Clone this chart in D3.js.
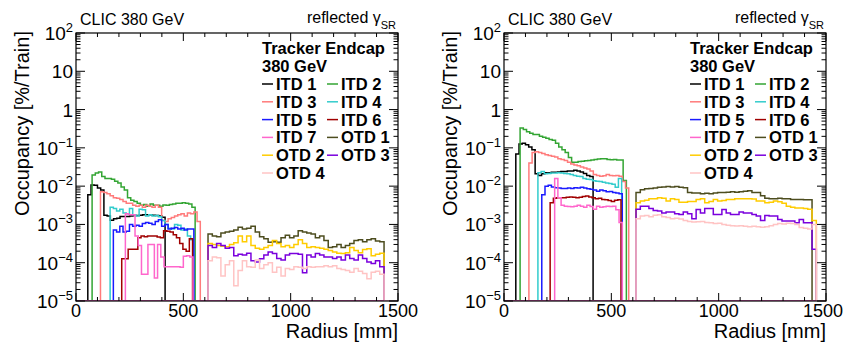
<!DOCTYPE html>
<html>
<head>
<meta charset="utf-8">
<script src="https://cdn.jsdelivr.net/npm/d3@7"></script>
<style>
  body { margin: 0; background: #fff; }
  text { font-family: "Liberation Sans", Arial, Helvetica, sans-serif; }
</style>
</head>
<body>
<svg id="chart" width="844" height="344"></svg>
<script>
// ---- series definitions ----
const seriesNames  = ["ITD 1", "ITD 2", "ITD 3", "ITD 4", "ITD 5", "ITD 6", "ITD 7",
                      "OTD 1", "OTD 2", "OTD 3", "OTD 4"];
const seriesColors = ["#000000", "#33a533", "#ff7b7b", "#33cccc", "#1a1aff", "#a00000", "#ff66cc",
                      "#4d4d1f", "#ffcc00", "#7a00dd", "#ffc4c4"];
// bin width [mm] per series
const binWidth     = [15, 15, 15, 15, 15, 15, 15, 20, 20, 20, 20];
// lower edge of first filled bin [mm]
const binStartLeft  = [55, 75, 114, 159, 174, 213, 230, 615, 615, 615, 615];
const binStartRight = [55, 75, 116, 158, 176, 215, 236, 615, 615, 615, 615];

// axis ticks
const xMajorTicks = [0, 500, 1000, 1500];
const yDecades    = [-5, -4, -3, -2, -1, 0, 1, 2];

// ---- occupancy [%/Train], left panel ----
const leftITD1 = [6.0e-3, 1.07e-2, 1.05e-2, 8.9e-3, 7.9e-3, 1.74e-3, 1.66e-3, 1.29e-3, 1.41e-3, 1.45e-3,
  1.6e-3, 1.62e-3, 1.6e-3, 1.66e-3, 1.7e-3, 1.7e-3, 1.74e-3, 1.78e-3, 1.8e-3, 1.78e-3, 1.74e-3, 1.7e-3, 1.66e-3, 1.55e-3];
const leftITD2 = [1.95e-2, 2.19e-2, 2.34e-2, 1.78e-2, 1.58e-2, 1.58e-2, 1.51e-2, 1.35e-2, 1.2e-2, 9.5e-3,
  7.9e-3, 5.0e-3, 4.3e-3, 4.0e-3, 3.55e-3, 3.16e-3, 3.3e-3, 3.0e-3, 3.4e-3, 3.16e-3, 3.16e-3, 3.0e-3,
  3.2e-3, 3.16e-3, 3.3e-3, 3.4e-3, 3.55e-3, 3.6e-3, 3.7e-3, 3.6e-3, 3.4e-3, 2.8e-3];
const leftITD3 = [7.1e-3, 6.8e-3, 6.3e-3, 5.6e-3, 5.0e-3, 4.8e-3, 4.5e-3, 4.0e-3, 3.55e-3, 3.55e-3,
  3.16e-3, 3.0e-3, 3.16e-3, 2.8e-3, 3.16e-3, 3.0e-3, 2.8e-3, 3.16e-3, 2.8e-3, 1.26e-3, 1.2e-3, 1.41e-3,
  1.51e-3, 1.66e-3, 1.78e-3, 1.9e-3, 1.66e-3, 2.0e-3, 1.9e-3, 2.1e-3, 1.2e-3];
const leftITD4 = [2.8e-3, 2.6e-3, 2.24e-3, 2.5e-3, 2.0e-3, 1.9e-3, 2.6e-3, 1.78e-3, 1.66e-3, 2.5e-3,
  2.4e-3, 1.66e-3, 1.78e-3, 1.66e-3, 1.7e-3, 1.58e-3, 1.26e-3, 1.0e-3, 7.9e-4, 7.6e-4, 1.0e-3, 9.5e-4,
  7.1e-4, 7.6e-4, 5.0e-4, 4.0e-4];
const leftITD5 = [7.1e-4, 6.3e-4, 8.9e-4, 6.3e-4, 6.6e-4, 1.0e-3, 8.9e-4, 9.5e-4, 8.9e-4, 1.05e-3,
  1.12e-3, 1.07e-3, 1.0e-3, 1.2e-3, 1.32e-3, 8.9e-4, 1.0e-3, 7.6e-4, 7.9e-4, 8.3e-4, 7.6e-4, 7.9e-4,
  7.1e-4, 7.6e-4, 7.6e-4];
const leftITD6 = [1.26e-4, 1.26e-4, 2.24e-4, 2.24e-4, 2.24e-4, 4.5e-4, 5.0e-4, 4.8e-4, 5.0e-4, 5.0e-4,
  5.0e-4, 4.7e-4, 4.5e-4, 6.8e-4, 6.6e-4, 6.3e-4, 5.4e-4, 4.5e-4, 3.16e-4, 2.24e-4, 2.0e-4, 4.2e-4];
const leftITD7 = [1.9e-3, 1.78e-3, 1.78e-3, 5.0e-4, 2.8e-4, 5.0e-5, 5.0e-5, 3.0e-4, 3.0e-4, 4.0e-5,
  3.0e-4, 1.41e-4, 7.9e-5, 7.9e-5, 7.9e-5, 7.9e-5, 7.9e-5, 7.6e-5, 1.48e-4, 1.51e-4, 1.41e-4];
const leftOTD1 = [5.6e-4, 5.0e-4, 4.8e-4, 6.0e-4, 6.3e-4, 6.6e-4, 7.1e-4, 8.5e-4, 7.6e-4, 7.9e-4,
  8.9e-4, 6.3e-4, 4.8e-4, 4.2e-4, 3.4e-4, 3.55e-4, 3.4e-4, 4.5e-4, 5.2e-4, 4.5e-4, 5.0e-4, 6.8e-4,
  6.3e-4, 6.0e-4, 5.6e-4, 4.5e-4, 5.0e-4, 3.8e-4, 2.5e-4, 2.6e-4, 3.0e-4, 2.5e-4, 2.8e-4, 3.16e-4,
  3.8e-4, 4.0e-4, 3.55e-4, 4.0e-4, 4.2e-4, 3.7e-4, 3.55e-4];
const leftOTD2 = [3.16e-4, 3.0e-4, 2.8e-4, 2.7e-4, 2.6e-4, 3.0e-4, 3.3e-4, 5.0e-4, 3.55e-4, 5.0e-4,
  2.8e-4, 2.4e-4, 2.24e-4, 2.5e-4, 2.8e-4, 3.8e-4, 3.16e-4, 2.6e-4, 2.8e-4, 2.5e-4, 3.0e-4, 4.0e-4,
  3.16e-4, 2.5e-4, 2.6e-4, 2.5e-4, 2.4e-4, 2.24e-4, 2.1e-4, 1.9e-4, 1.78e-4, 1.74e-4, 1.82e-4, 2.5e-4,
  2.1e-4, 1.82e-4, 2.2e-4, 2.3e-4, 1.51e-4, 1.66e-4, 1.78e-4];
const leftOTD3 = [2.8e-4, 2.5e-4, 3.16e-4, 2.8e-4, 2.4e-4, 2.5e-4, 1.51e-4, 1.66e-4, 1.58e-4, 1.78e-4,
  1.12e-4, 1.05e-4, 1.26e-4, 1.58e-4, 1.9e-4, 1.74e-4, 1.29e-4, 1.17e-4, 1.58e-4, 1.74e-4, 1.74e-4,
  1.66e-4, 5.5e-5, 1.58e-4, 1.41e-4, 1.74e-4, 1.58e-4, 1.41e-4, 1.41e-4, 1.29e-4, 1.41e-4, 1.17e-4,
  1.58e-4, 1.29e-4, 1.17e-4, 1.58e-4, 1.29e-4, 1.05e-4, 9.5e-5, 1.12e-4, 7.9e-5];
const leftOTD4 = [1.12e-4, 1.41e-4, 1.35e-4, 4.5e-5, 8.9e-5, 1.12e-4, 2.5e-5, 6.3e-5, 1.12e-4, 7.9e-5,
  7.6e-5, 1.17e-4, 7.1e-5, 8.9e-5, 1.0e-4, 5.6e-5, 7.6e-5, 4.5e-5, 7.1e-5, 6.6e-5, 7.9e-5, 7.6e-5,
  7.1e-5, 7.9e-5, 7.6e-5, 7.9e-5, 7.9e-5, 8.3e-5, 7.9e-5, 8.3e-5, 7.1e-5, 6.6e-5, 6.3e-5, 5.6e-5,
  7.1e-5, 6.0e-5, 5.2e-5, 3.8e-5, 5.6e-5, 6.0e-5, 5.0e-5];

// ---- occupancy [%/Train], right panel ----
const rightITD1 = [6.9e-2, 0.126, 0.132, 0.12, 0.105, 8.9e-2, 2.1e-2, 1.9e-2, 2.1e-2, 2.24e-2,
  2.24e-2, 2.3e-2, 2.3e-2, 2.34e-2, 2.4e-2, 2.4e-2, 2.5e-2, 2.5e-2, 2.6e-2, 2.5e-2, 2.34e-2, 2.14e-2,
  1.9e-2, 1.78e-2];
const rightITD2 = [0.331, 0.302, 0.263, 0.24, 0.224, 0.224, 0.2, 0.19, 0.178, 0.166, 0.158, 0.132,
  0.105, 8.9e-2, 7.6e-2, 5.6e-2, 4.2e-2, 4.2e-2, 4.4e-2, 4.5e-2, 4.6e-2, 4.7e-2, 4.8e-2, 5.0e-2,
  5.1e-2, 5.2e-2, 5.2e-2, 5.0e-2, 4.9e-2, 5.0e-2, 4.8e-2, 4.8e-2, 1.41e-2];
const rightITD3 = [4.0e-2, 7.6e-2, 7.9e-2, 7.6e-2, 7.1e-2, 6.6e-2, 6.3e-2, 6.0e-2, 5.8e-2, 5.2e-2,
  5.0e-2, 4.7e-2, 4.2e-2, 3.8e-2, 3.55e-2, 3.4e-2, 3.16e-2, 3.0e-2, 2.8e-2, 2.5e-2, 2.0e-2, 1.9e-2,
  1.82e-2, 1.86e-2, 2.0e-2, 1.9e-2, 1.86e-2, 1.9e-2, 1.82e-2, 1.32e-2, 8.9e-3];
const rightITD4 = [2.24e-2, 2.4e-2, 2.1e-2, 2.14e-2, 2.2e-2, 2.2e-2, 2.24e-2, 2.2e-2, 2.14e-2, 2.1e-2,
  2.0e-2, 1.9e-2, 1.82e-2, 1.78e-2, 1.58e-2, 1.51e-2, 1.48e-2, 1.38e-2, 1.35e-2, 1.32e-2, 1.26e-2,
  1.2e-2, 1.17e-2, 1.12e-2, 9.3e-3, 1.58e-2];
const rightITD5 = [6.0e-3, 1.0e-2, 1.05e-2, 9.5e-3, 9.1e-3, 8.9e-3, 8.7e-3, 8.7e-3, 8.9e-3, 8.7e-3,
  9.1e-3, 8.9e-3, 9.3e-3, 8.9e-3, 8.5e-3, 8.3e-3, 7.9e-3, 7.4e-3, 7.9e-3, 7.6e-3, 7.1e-3, 7.2e-3,
  6.8e-3, 6.6e-3, 6.3e-3];
const rightITD6 = [3.7e-3, 4.8e-3, 5.0e-3, 5.0e-3, 5.0e-3, 5.1e-3, 5.2e-3, 5.1e-3, 5.0e-3, 5.1e-3,
  5.4e-3, 5.5e-3, 5.2e-3, 5.0e-3, 4.7e-3, 4.8e-3, 4.5e-3, 4.4e-3, 4.2e-3, 4.0e-3, 4.3e-3, 4.4e-3];
const rightITD7 = [1.58e-2, 5.0e-3, 3.16e-3, 3.0e-3, 2.95e-3, 2.9e-3, 3.0e-3, 3.16e-3, 3.0e-3, 2.8e-3,
  3.16e-3, 2.95e-3, 2.5e-3, 3.0e-3, 2.8e-3, 2.9e-3, 3.0e-3, 2.95e-3, 3.0e-3, 2.4e-3, 1.12e-3];
const rightOTD1 = [6.8e-3, 8.1e-3, 8.5e-3, 8.7e-3, 8.9e-3, 9.3e-3, 9.5e-3, 9.8e-3, 9.5e-3, 9.8e-3,
  9.3e-3, 9.1e-3, 6.8e-3, 6.6e-3, 6.6e-3, 6.3e-3, 6.5e-3, 6.3e-3, 6.6e-3, 6.8e-3, 6.8e-3, 6.9e-3,
  7.1e-3, 6.9e-3, 7.1e-3, 7.4e-3, 7.6e-3, 6.8e-3, 6.8e-3, 5.6e-3, 4.8e-3, 4.7e-3, 4.7e-3, 4.8e-3,
  4.7e-3, 4.7e-3, 4.5e-3, 4.5e-3, 4.5e-3, 4.4e-3, 4.4e-3];
const rightOTD2 = [3.7e-3, 4.1e-3, 4.3e-3, 4.7e-3, 4.7e-3, 5.0e-3, 4.8e-3, 4.1e-3, 4.7e-3, 4.5e-3,
  3.8e-3, 3.8e-3, 4.0e-3, 4.0e-3, 4.5e-3, 4.7e-3, 3.7e-3, 4.0e-3, 4.5e-3, 4.1e-3, 4.2e-3, 4.5e-3,
  4.5e-3, 4.7e-3, 4.7e-3, 4.7e-3, 4.7e-3, 4.6e-3, 4.1e-3, 4.1e-3, 3.7e-3, 3.8e-3, 4.1e-3, 3.9e-3,
  3.55e-3, 3.0e-3, 2.8e-3, 2.7e-3, 2.7e-3, 2.6e-3, 2.5e-3, 1.26e-3];
const rightOTD3 = [2.5e-3, 3.0e-3, 3.0e-3, 2.6e-3, 2.3e-3, 2.24e-3, 2.0e-3, 2.1e-3, 2.1e-3, 1.9e-3,
  1.82e-3, 2.1e-3, 1.9e-3, 1.41e-3, 2.45e-3, 2.0e-3, 2.6e-3, 2.6e-3, 1.82e-3, 1.82e-3, 2.45e-3,
  2.0e-3, 1.82e-3, 1.82e-3, 2.1e-3, 2.0e-3, 2.0e-3, 1.82e-3, 1.66e-3, 1.26e-3, 1.7e-3, 1.66e-3,
  1.66e-3, 1.35e-3, 1.23e-3, 1.23e-3, 1.23e-3, 1.1e-3, 1.35e-3, 1.1e-3, 1.1e-3, 2.24e-4];
const rightOTD4 = [1.41e-3, 1.66e-3, 1.7e-3, 1.58e-3, 1.74e-3, 1.78e-3, 1.58e-3, 1.51e-3, 1.41e-3,
  1.45e-3, 1.38e-3, 1.26e-3, 1.2e-3, 1.15e-3, 1.17e-3, 1.2e-3, 1.12e-3, 1.1e-3, 1.05e-3, 1.07e-3,
  1.0e-3, 9.5e-4, 9.3e-4, 9.1e-4, 9.3e-4, 8.9e-4, 8.7e-4, 8.9e-4, 8.7e-4, 8.5e-4, 8.7e-4, 9.3e-4,
  1.0e-3, 1.05e-3, 1.02e-3, 1.07e-3, 1.05e-3, 1.0e-3, 8.3e-4, 7.9e-4, 7.6e-4, 1.0e-3];

const panels = [
  { dx: 0,   starts: binStartLeft,
    values: [leftITD1, leftITD2, leftITD3, leftITD4, leftITD5, leftITD6, leftITD7,
             leftOTD1, leftOTD2, leftOTD3, leftOTD4] },
  { dx: 428, starts: binStartRight,
    values: [rightITD1, rightITD2, rightITD3, rightITD4, rightITD5, rightITD6, rightITD7,
             rightOTD1, rightOTD2, rightOTD3, rightOTD4] }
];

// ---- layout ----
const width = 844;
const frameLeft = 76, frameRight = 398, frameTop = 33, frameBottom = 301;
const yMin = 1e-5, yMax = 1e2;
const svg = d3.select("#chart");

panels.forEach((panel, pi) => {
  const g = svg.append("g").attr("transform", `translate(${panel.dx},0)`);
  const x = d3.scaleLinear().domain([0, 1500]).range([frameLeft, frameRight]);
  const y = d3.scaleLog().domain([yMin, yMax]).range([frameBottom, frameTop]);

  const clipId = "clip" + pi;
  g.append("clipPath").attr("id", clipId).append("rect")
    .attr("x", frameLeft).attr("y", frameTop - 1)
    .attr("width", frameRight - frameLeft).attr("height", frameBottom - frameTop + 1);

  const plot = g.append("g").attr("clip-path", `url(#${clipId})`);
  const line = d3.line().x(d => x(d[0])).y(d => y(Math.max(d[1], yMin)));

  // histograms
  let maxEnd = 0;
  panel.values.forEach((vals, si) => {
    const start = panel.starts[si], w = binWidth[si];
    const pts = [[start, yMin]];
    vals.forEach((v, i) => { pts.push([start + i * w, v]); pts.push([start + (i + 1) * w, v]); });
    const end = start + vals.length * w;
    pts.push([end, yMin]);
    maxEnd = Math.max(maxEnd, end);
    plot.append("path").attr("d", line(pts))
      .attr("fill", "none").attr("stroke", seriesColors[si])
      .attr("stroke-width", 1.5).attr("stroke-linejoin", "miter");
  });
  // empty bins sit on the lower edge of the frame
  plot.append("path").attr("d", line([[0, yMin], [maxEnd, yMin]]))
    .attr("stroke", "#e060b8").attr("stroke-width", 2).attr("fill", "none");
  plot.append("path").attr("d", line([[maxEnd, yMin], [1500, yMin]]))
    .attr("stroke", "#f0b0c8").attr("stroke-width", 2).attr("fill", "none");

  // frame
  g.append("rect").attr("x", frameLeft).attr("y", frameTop)
    .attr("width", frameRight - frameLeft).attr("height", frameBottom - frameTop)
    .attr("fill", "none").attr("stroke", "#000").attr("stroke-width", 1.2);

  // x ticks (bottom and top, inward)
  const xMinor = d3.range(0, 1501, 100);
  const ticks = g.append("g").attr("stroke", "#000").attr("stroke-width", 1);
  xMinor.forEach(v => {
    const len = xMajorTicks.includes(v) ? 8 : 4;
    ticks.append("line").attr("x1", x(v)).attr("x2", x(v)).attr("y1", frameBottom).attr("y2", frameBottom - len);
    ticks.append("line").attr("x1", x(v)).attr("x2", x(v)).attr("y1", frameTop).attr("y2", frameTop + len);
  });
  // y ticks (left and right, inward)
  yDecades.forEach(k => {
    const vals = k < 2 ? d3.range(1, 10).map(m => m * Math.pow(10, k)) : [Math.pow(10, k)];
    vals.forEach((v, idx) => {
      const len = idx === 0 ? 9 : 4.5;
      ticks.append("line").attr("x1", frameLeft).attr("x2", frameLeft + len).attr("y1", y(v)).attr("y2", y(v));
      ticks.append("line").attr("x1", frameRight).attr("x2", frameRight - len).attr("y1", y(v)).attr("y2", y(v));
    });
  });

  // x tick labels (kept inside the page at the right edge)
  xMajorTicks.forEach(v => {
    const t = g.append("text").attr("x", x(v)).attr("y", frameBottom + 16).attr("text-anchor", "middle")
      .attr("font-size", 18).text(v);
    const half = t.node().getComputedTextLength() / 2;
    const overflow = panel.dx + x(v) + half - (width - 1);
    if (overflow > 0) t.attr("x", x(v) - overflow);
  });
  // y tick labels
  yDecades.forEach(k => {
    const t = g.append("text").attr("x", frameLeft - 3).attr("y", y(Math.pow(10, k)) + 7)
      .attr("text-anchor", "end").attr("font-size", 19);
    if (k === 0) t.text("1");
    else if (k === 1) t.text("10");
    else {
      t.append("tspan").text("10");
      t.append("tspan").attr("font-size", 13).attr("dy", -8).text(k < 0 ? "\u2212" + (-k) : String(k));
    }
  });

  // axis titles
  g.append("text").attr("x", frameRight).attr("y", 338).attr("text-anchor", "end")
    .attr("font-size", 20).text("Radius [mm]");
  g.append("text").attr("transform", `translate(29,31) rotate(-90)`).attr("text-anchor", "end")
    .attr("font-size", 20).text("Occupancy [%/Train]");

  // header labels
  g.append("text").attr("x", 80).attr("y", 25).attr("font-size", 16).text("CLIC 380 GeV");
  const refl = g.append("text").attr("x", 396).attr("y", 23).attr("text-anchor", "end").attr("font-size", 16);
  refl.append("tspan").text("reflected \u03b3");
  refl.append("tspan").attr("font-size", 11).attr("dy", 6).text("SR");

  // legend
  const leg = g.append("g").attr("font-weight", "bold").attr("font-size", 16.5);
  leg.append("text").attr("x", 262).attr("y", 54).text("Tracker Endcap");
  leg.append("text").attr("x", 262).attr("y", 72).text("380 GeV");
  seriesNames.forEach((name, i) => {
    const row = Math.floor(i / 2), col = i % 2;
    const mx = col === 0 ? 262 : 327;
    const by = 90 + row * 17.8;
    leg.append("line").attr("x1", mx).attr("x2", mx + 11).attr("y1", by - 6).attr("y2", by - 6)
      .attr("stroke", seriesColors[i]).attr("stroke-width", 1.5);
    leg.append("text").attr("x", mx + 14).attr("y", by).text(name);
  });
});
</script>
</body>
</html>
